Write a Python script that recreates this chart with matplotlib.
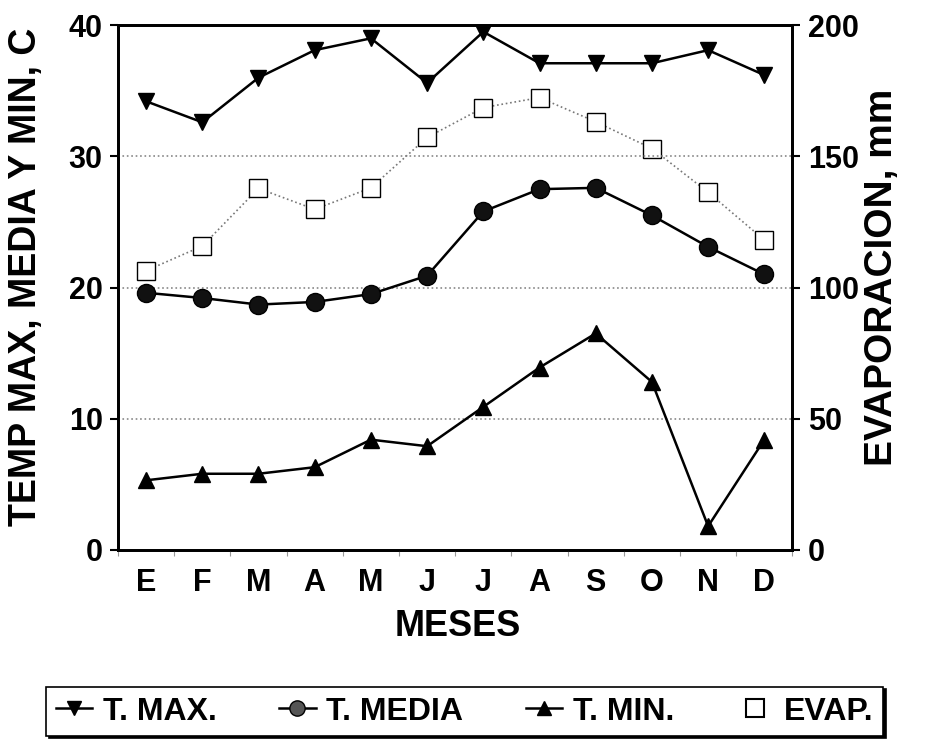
import matplotlib
matplotlib.use('Agg')
import matplotlib.pyplot as plt
from matplotlib.lines import Line2D

plt.rcParams['font.family'] = ['Liberation Sans', 'DejaVu Sans']

MESES = ['E', 'F', 'M', 'A', 'M', 'J', 'J', 'A', 'S', 'O', 'N', 'D']
T_MAX = [34.2, 32.6, 36.0, 38.1, 39.0, 35.6, 39.5, 37.1, 37.1, 37.1, 38.1, 36.2]
T_MEDIA = [19.6, 19.2, 18.7, 18.9, 19.5, 20.9, 25.8, 27.5, 27.6, 25.5, 23.1, 21.0]
T_MIN = [5.3, 5.8, 5.8, 6.3, 8.4, 7.9, 10.9, 13.9, 16.5, 12.8, 1.8, 8.4]
EVAP = [106.4, 115.8, 137.8, 129.8, 138.0, 157.2, 168.6, 172.4, 163.2, 153.0, 136.3, 118.1]

x = list(range(len(MESES)))

fig = plt.figure(figsize=(9.29, 7.42), dpi=100)
ax = fig.add_axes([0.127, 0.259, 0.726, 0.707])
ax2 = ax.twinx()

# evaporation on the secondary axis, drawn underneath the temperatures
ax2.plot(x, EVAP, ls=':', color='#777777', lw=1.2, marker='s', ms=13,
         mfc='white', mec='black', mew=1.0)
ax2.set_ylim(0, 200)
ax2.set_yticks([0, 50, 100, 150, 200])

ax.plot(x, T_MAX, '-', color='black', lw=1.8, marker='v', ms=12)
ax.plot(x, T_MEDIA, '-', color='black', lw=1.8, marker='o', ms=13,
        mfc='#111111', mec='black')
ax.plot(x, T_MIN, '-', color='black', lw=1.8, marker='^', ms=12)
ax.set_zorder(ax2.get_zorder() + 1)
ax.patch.set_visible(False)

ax.set_ylim(0, 40)
ax.set_yticks([0, 10, 20, 30, 40])
ax.set_xlim(-0.5, 11.5)
ax.set_xticks(x)
ax.set_xticklabels(MESES)
ax.set_xticks([i - 0.5 for i in range(13)], minor=True)
for yv in (10, 20, 30):
    ax.axhline(yv, color='#888888', ls=':', lw=1.2, zorder=0)

for a in (ax, ax2):
    for s in a.spines.values():
        s.set_linewidth(2.0)
    a.tick_params(labelsize=22, width=1.5, length=6, pad=5)
    for t in a.get_xticklabels() + a.get_yticklabels():
        t.set_fontweight('bold')
ax.tick_params(axis='x', which='major', length=0, pad=13)
ax.tick_params(axis='x', which='minor', length=4, width=0.8, color='#999999')

ax.set_xlabel('MESES', fontsize=26, fontweight='bold')
ax.xaxis.set_label_coords(0.504, -0.113)
ax.set_ylabel('TEMP MAX, MEDIA Y MIN, C', fontsize=27, fontweight='bold')
ax.yaxis.set_label_coords(-0.11, 0.52)
ax2.set_ylabel('EVAPORACION, mm', fontsize=28, fontweight='bold')
ax2.yaxis.set_label_coords(1.106, 0.52)

handles = [
    Line2D([], [], color='black', lw=1.8, marker='v', ms=10),
    Line2D([], [], color='black', lw=1.8, marker='o', ms=11, mfc='#555555'),
    Line2D([], [], color='black', lw=1.8, marker='^', ms=10),
    Line2D([], [], ls='none', marker='s', ms=13, mfc='white', mec='black', mew=1.5),
]
leg = fig.legend(handles, ['T. MAX.', 'T. MEDIA', 'T. MIN.', 'EVAP.'],
                 loc='center', bbox_to_anchor=(0.5, 0.041), ncol=4,
                 prop={'size': 23, 'weight': 'bold'}, frameon=True,
                 fancybox=False, edgecolor='black', handlelength=1.15,
                 handletextpad=0.33, columnspacing=1.95, borderpad=0.3,
                 borderaxespad=0,
                 shadow={'ox': 2, 'oy': -1.5, 'color': 'black', 'alpha': 1})
leg.get_frame().set_linewidth(1.2)

fig.savefig('out.png', dpi=100)
